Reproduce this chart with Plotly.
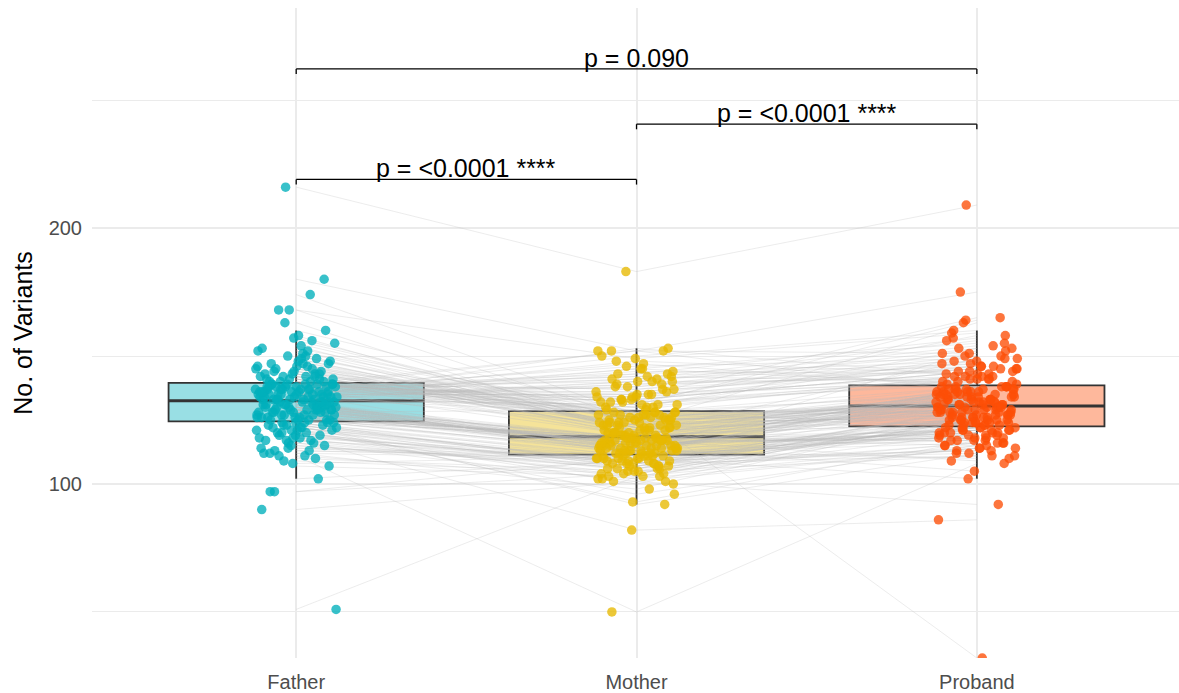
import numpy as np
import plotly.graph_objects as go

categories = ["Father", "Mother", "Proband"]

father = [216, 51, 111, 128, 180, 118, 90,
          145, 135, 129, 122, 138, 141, 116, 126,
          152, 133, 131, 124, 136, 143, 109, 127,
          147, 139, 132, 121, 134, 140, 119, 125,
          158, 137, 130, 123, 137, 142, 113, 128,
          144, 133, 131, 124, 139, 149, 97, 128,
          141, 135, 125, 120, 136, 146, 117, 130,
          163, 138, 127, 122, 134, 143, 114, 132,
          140, 134, 126, 123, 136, 150, 121, 129,
          145, 138, 126, 112, 133, 142, 124, 132,
          147, 135, 129, 118, 137, 168, 107, 125,
          141, 139, 131, 122, 139, 144, 115, 128,
          153, 135, 127, 121, 137, 140, 119, 130,
          146, 134, 130, 124, 138, 143, 110, 127,
          155, 133, 128, 123, 136, 142, 117, 132,
          148, 136, 126, 102, 139, 145, 120, 129,
          160, 134, 131, 116, 137, 141, 122, 125,
          144, 133, 128, 113, 135, 147, 121, 131,
          149, 138, 130, 124, 133, 140, 108, 126,
          156, 137, 129, 118, 135, 143, 114, 127,
          146, 138, 125, 119, 134, 142, 123, 132,
          151, 139, 130, 115, 136, 174, 111, 132,
          148, 138, 129, 117, 134, 150, 97, 131,
          157, 136, 127, 120, 139, 154, 112, 132,
          168, 152, 137, 133, 135, 135, 130, 129, 131]

mother = [183, 103, 50, 129, 152, 82, 101,
          123, 135, 115, 110, 142, 119, 106, 118,
          127, 131, 113, 111, 138, 121, 104, 116,
          125, 133, 112, 109, 145, 128, 108, 117,
          120, 130, 114, 93, 136, 124, 111, 117,
          126, 140, 113, 107, 132, 122, 110, 116,
          126, 148, 112, 102, 134, 122, 109, 118,
          120, 131, 114, 105, 139, 128, 111, 115,
          119, 143, 112, 108, 130, 124, 100, 116,
          127, 152, 118, 110, 133, 121, 106, 114,
          123, 135, 115, 111, 141, 125, 103, 113,
          120, 137, 117, 109, 132, 125, 107, 114,
          128, 129, 117, 96, 146, 123, 108, 115,
          127, 134, 118, 110, 140, 121, 105, 113,
          124, 131, 116, 111, 136, 126, 104, 112,
          122, 150, 118, 109, 133, 119, 106, 112,
          128, 138, 114, 101, 142, 124, 108, 117,
          122, 130, 116, 110, 144, 119, 107, 115,
          121, 134, 113, 92, 139, 126, 111, 116,
          125, 132, 115, 103, 145, 123, 109, 117,
          120, 135, 113, 105, 153, 127, 108, 114,
          121, 137, 112, 106, 141, 127, 102, 118,
          125, 143, 117, 110, 140, 126, 104, 118,
          124, 147, 114, 107, 152, 120, 98, 116,
          149, 122, 119, 128, 123, 113, 115, 118, 117]

proband = [209, 120, 108, 32, 175, 86, 92,
           127, 142, 134, 120, 147, 137, 124, 115,
           130, 140, 131, 122, 153, 136, 125, 118,
           128, 144, 133, 112, 139, 138, 123, 121,
           129, 150, 132, 117, 145, 135, 126, 109,
           129, 141, 136, 122, 158, 132, 126, 119,
           123, 143, 138, 114, 146, 134, 128, 121,
           125, 164, 131, 116, 142, 135, 130, 120,
           124, 148, 137, 111, 141, 133, 127, 118,
           124, 151, 131, 122, 144, 135, 130, 105,
           127, 140, 133, 119, 156, 138, 123, 121,
           129, 145, 136, 113, 139, 132, 126, 117,
           128, 143, 134, 115, 149, 137, 125, 120,
           128, 141, 137, 122, 154, 133, 125, 110,
           126, 142, 136, 118, 146, 131, 130, 116,
           124, 160, 135, 121, 144, 134, 127, 119,
           123, 147, 138, 114, 140, 132, 129, 117,
           126, 153, 133, 102, 143, 138, 129, 122,
           128, 165, 134, 112, 145, 132, 124, 120,
           127, 141, 137, 115, 155, 131, 125, 118,
           130, 148, 135, 111, 142, 136, 123, 121,
           130, 150, 135, 116, 146, 131, 128, 119,
           129, 157, 137, 113, 151, 133, 125, 117,
           163, 138, 130, 114, 136, 149, 127, 132,
           159, 134, 124, 129, 135, 152, 126, 128, 134]

comparisons = [("Father", "Mother"), ("Mother", "Proband"), ("Father", "Proband")]
p_labels = ["p = <0.0001 ****", "p = <0.0001 ****", "p = 0.090"]

colors = ["#00AFBB", "#E7B800", "#FC4E07"]
fills = ["rgba(0,175,187,0.4)", "rgba(231,184,0,0.4)", "rgba(252,78,7,0.4)"]
FONT = "Liberation Sans, Arial, sans-serif"

groups = [father, mother, proband]
fig = go.Figure()

# boxes (bottom layer)
for i, vals in enumerate(groups):
    fig.add_trace(go.Box(
        y=vals, x0=i, width=0.75, boxpoints="outliers",
        marker=dict(opacity=0, size=1), fillcolor=fills[i],
        line=dict(color="#333333", width=1.8), whiskerwidth=0,
        hoverinfo="skip", showlegend=False))
    med = float(np.median(vals))
    fig.add_trace(go.Scatter(
        x=[i - 0.375, i + 0.375], y=[med, med], mode="lines",
        line=dict(color="#333333", width=3), hoverinfo="skip", showlegend=False))

# paired lines per family
for f, m, p in zip(father, mother, proband):
    fig.add_trace(go.Scatter(
        x=[0, 1, 2], y=[f, m, p], mode="lines",
        line=dict(color="rgba(185,185,185,0.28)", width=1),
        hoverinfo="skip", showlegend=False))

# jittered points
mults = [0.6180339887, 0.4142135624, 0.7320508076]
for i, vals in enumerate(groups):
    n = len(vals)
    u = (np.arange(n) * mults[i] + 0.37) % 1.0
    xj = i + 0.12 * (2 * u - 1)
    fig.add_trace(go.Scatter(
        x=xj, y=vals, mode="markers",
        marker=dict(color=colors[i], size=9.5, opacity=0.78, line=dict(width=0)),
        name=categories[i], showlegend=False))

# significance brackets
ymax = max(max(g) for g in groups)
step = 0.1 * ymax
tick = 2.0
for k, ((a, b), lab) in enumerate(zip(comparisons, p_labels)):
    xa, xb = categories.index(a), categories.index(b)
    yb = ymax + 3 + k * step
    for (x0, x1, y0, y1) in [(xa, xb, yb, yb), (xa, xa, yb, yb - tick), (xb, xb, yb, yb - tick)]:
        fig.add_shape(type="line", x0=x0, x1=x1, y0=y0, y1=y1, xref="x", yref="y",
                      line=dict(color="black", width=1.3), layer="above")
    fig.add_annotation(x=(xa + xb) / 2, y=yb, text=lab, showarrow=False,
                       yanchor="bottom", yshift=-5,
                       font=dict(family=FONT, size=25, color="black"))

fig.update_layout(
    width=1179, height=693,
    margin=dict(l=92, r=0, t=8, b=35),
    plot_bgcolor="white", paper_bgcolor="white",
    font=dict(family=FONT),
    boxmode="overlay", showlegend=False)

fig.update_xaxes(
    range=[-0.6, 2.594], tickvals=[0, 1, 2], ticktext=categories,
    showgrid=True, gridcolor="#EBEBEB", gridwidth=1.5,
    zeroline=False, showline=False, ticks="",
    tickfont=dict(family=FONT, size=20, color="#4D4D4D"), ticklabelstandoff=10)

fig.update_yaxes(
    range=[32, 286], tick0=0, dtick=100,
    showgrid=True, gridcolor="#EBEBEB", gridwidth=1.5,
    minor=dict(tick0=0, dtick=50, showgrid=True, gridcolor="#EBEBEB", gridwidth=1),
    zeroline=False, showline=False, ticks="",
    tickfont=dict(family=FONT, size=20, color="#4D4D4D"), ticklabelstandoff=9,
    title=dict(text="No. of Variants", font=dict(family=FONT, size=25, color="black"), standoff=8))

fig.write_html("out.html")
